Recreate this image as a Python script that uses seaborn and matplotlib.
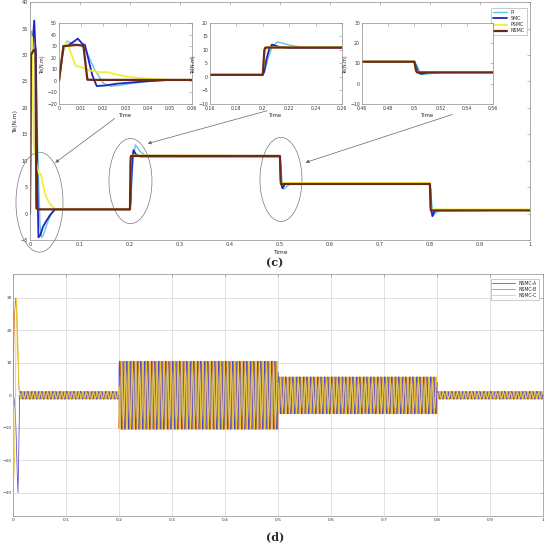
import numpy as np
import pandas as pd
import matplotlib
matplotlib.use("Agg")
import matplotlib.pyplot as plt
from matplotlib.patches import Ellipse
import seaborn as sns

# Par electromagnetico (panel c)
time_pi = [0, 0.0015, 0.0035, 0.006, 0.0095, 0.012, 0.016, 0.02, 0.023, 0.027, 0.032, 0.038,
           0.045, 0.05, 0.2, 0.2015, 0.204, 0.207, 0.211, 0.215, 0.22, 0.23, 0.5, 0.5015,
           0.504, 0.507, 0.512, 0.52, 0.8, 0.8015, 0.804, 0.807, 0.812, 0.82, 1.0]
te_pi = [0, 22, 34.5, 32, 31, 27, 10, -2, -4.5, -4, -2.5, -1, 0.3, 0.8, 0.8, 2, 7, 11, 13,
         12.5, 11.8, 11, 10.8, 9.5, 6, 4.6, 5, 5.6, 5.7, 4.5, 1.2, -0.3, 0.2, 0.6, 0.7]

time_smc = [0, 0.002, 0.004, 0.006, 0.0085, 0.0105, 0.0117, 0.015, 0.017, 0.021, 0.026, 0.032,
            0.04, 0.05, 0.2, 0.201, 0.203, 0.205, 0.207, 0.212, 0.22, 0.5, 0.501, 0.503,
            0.505, 0.51, 0.8, 0.801, 0.803, 0.805, 0.81, 1.0]
te_smc = [0, 30, 30.5, 33, 36.5, 32, 31, 5, -4.5, -4, -2.5, -1.5, -0.3, 0.8, 0.8, 2, 7, 10.5,
          12, 11.2, 10.8, 10.8, 9, 5.5, 4.8, 5.6, 5.7, 4, 0.5, -0.5, 0.6, 0.7]

time_psmc = [0, 0.0015, 0.0035, 0.005, 0.0075, 0.0105, 0.014, 0.018, 0.022, 0.026, 0.031, 0.037,
             0.043, 0.05, 0.2, 0.2012, 0.203, 0.5, 0.5012, 0.503, 0.8, 0.8012, 0.803, 1.0]
te_psmc = [0, 25, 33.5, 26, 13, 11.5, 9, 7.5, 7.5, 5.5, 3.5, 2.3, 1.5, 0.9, 0.9, 9, 11, 10.9,
           6.5, 5.8, 5.8, 1.5, 0.8, 0.8]

time_nsmc = [0, 0.002, 0.005, 0.008, 0.011, 0.0128, 0.016, 0.05, 0.2, 0.2012, 0.202, 0.5,
             0.5012, 0.502, 0.8, 0.8012, 0.802, 1.0]
te_nsmc = [0, 30, 30.5, 31, 30.5, 1, 0.8, 0.8, 0.8, 10, 10.9, 10.9, 6.5, 5.6, 5.6, 1.2, 0.6, 0.6]

controllers = ["PI", "SMC", "PSMC", "NSMC"]
ctrl_colors = {"PI": "#5cc6ee", "SMC": "#2323c0", "PSMC": "#f2ef3a", "NSMC": "#6b2a12"}
ctrl_widths = {"PI": 1.0, "SMC": 1.3, "PSMC": 1.3, "NSMC": 1.6}

# Corrientes de fase NSMC (panel d): arranque leido punto a punto
start_t_a = [0, 0.002, 0.004, 0.006, 0.008, 0.0095, 0.011, 0.0125]
start_i_a = [0, -1, -4, -12, -24, -30, -15, 0]
start_t_b = [0, 0.0015, 0.003, 0.005, 0.007, 0.009, 0.011, 0.0125]
start_i_b = [0, 15, 25, 30, 26, 14, 3, 0]
start_t_c = [0, 0.001, 0.002, 0.003, 0.0045, 0.006, 0.007, 0.009, 0.0115, 0.0125]
start_i_c = [0, -15, -25, -18, 0, 22, 30, 18, 2, 0]

# envolvente de las corrientes por tramo y frecuencia electrica leida
seg_start = [0.0125, 0.2, 0.5, 0.8]
seg_end = [0.2, 0.5, 0.8, 1.0]
seg_amp = [1.2, 10.5, 5.7, 1.2]
freq_hz = 150
phase_names = ["NSMC-A", "NSMC-B", "NSMC-C"]
phase_colors = {"NSMC-A": "#5348c4", "NSMC-B": "#d0762c", "NSMC-C": "#e8cc2c"}

# ---- tabla del par
rows = []
for name, tt, vv in [("PI", time_pi, te_pi), ("SMC", time_smc, te_smc),
                     ("PSMC", time_psmc, te_psmc), ("NSMC", time_nsmc, te_nsmc)]:
    for t, v in zip(tt, vv):
        rows.append({"Time": t, "Te": v, "ctrl": name})
df_te = pd.DataFrame(rows)

# ---- tabla de corrientes
t_run = np.linspace(0.0125, 1.0, 24000)
amp = np.zeros_like(t_run)
for s, e, a in zip(seg_start, seg_end, seg_amp):
    amp[(t_run >= s) & (t_run <= e)] = a
shifts = {"NSMC-A": 0.0, "NSMC-B": -2 * np.pi / 3, "NSMC-C": 2 * np.pi / 3}
starts = {"NSMC-A": (start_t_a, start_i_a), "NSMC-B": (start_t_b, start_i_b),
          "NSMC-C": (start_t_c, start_i_c)}
frames = []
for ph in phase_names:
    st, si = starts[ph]
    cur = amp * np.sin(2 * np.pi * freq_hz * (t_run - 0.0125) + shifts[ph])
    frames.append(pd.DataFrame({"Time": np.r_[st, t_run[1:]], "I": np.r_[si, cur[1:]], "phase": ph}))
df_i = pd.concat(frames, ignore_index=True)

sns.set_style("white")
plt.rcParams["font.family"] = ["DejaVu Sans"]
spine_c = "#8c8c8c"

fig = plt.figure(figsize=(5.5, 5.47), dpi=100)


def style_axes(ax, fs=3.6):
    for sp in ax.spines.values():
        sp.set_color(spine_c)
        sp.set_linewidth(0.5)
    ax.tick_params(direction="in", length=2, width=0.4, colors=spine_c, labelsize=fs,
                   labelcolor="#333333", top=True, right=True, pad=1.5)


def draw_te(ax, lw_scale=1.0):
    for c in controllers:
        sub = df_te[df_te["ctrl"] == c]
        sns.lineplot(data=sub, x="Time", y="Te", ax=ax, color=ctrl_colors[c],
                     lw=ctrl_widths[c] * lw_scale, estimator=None, sort=False, label=c)


# ---- panel (c)
ax = fig.add_axes([0.0545, 0.5612, 0.909, 0.435])
draw_te(ax)
ax.set_xlim(0, 1)
ax.set_ylim(-5, 40)
ax.set_xticks(np.arange(0, 1.01, 0.1))
ax.set_xticklabels(["0", "0.1", "0.2", "0.3", "0.4", "0.5", "0.6", "0.7", "0.8", "0.9", "1"])
ax.set_yticks(np.arange(-5, 41, 5))
style_axes(ax)
ax.set_xlabel("Time", fontsize=4.2, labelpad=2)
ax.set_ylabel("Te(N.m)", fontsize=4.2, labelpad=2)
leg = ax.legend(loc="upper right", bbox_to_anchor=(0.998, 0.985), fontsize=3.4, frameon=True,
                fancybox=False, edgecolor=spine_c, handlelength=3, borderpad=0.4,
                labelspacing=0.25)
leg.get_frame().set_linewidth(0.4)

for cx, cy, w, h in [(0.019, 2.15, 0.094, 18.9), (0.201, 6.15, 0.086, 16.1), (0.502, 6.45, 0.084, 15.9)]:
    ax.add_patch(Ellipse((cx, cy), w, h, fill=False, ec="#777777", lw=0.5, clip_on=False))
for (x0, y0), (x1, y1) in [((0.174, 18.3), (0.046, 9.3)), ((0.48, 19.6), (0.23, 13.1)),
                           ((0.85, 18.9), (0.546, 9.5))]:
    ax.annotate("", xy=(x1, y1), xytext=(x0, y0), annotation_clip=False,
                arrowprops=dict(arrowstyle="-|>", color="#666666", lw=0.5, mutation_scale=5))

# insets
inset_specs = [
    ([0.1073, 0.8099, 0.2418, 0.1481], (0, 0.06), (-20, 50), np.arange(0, 0.061, 0.01),
     ["0", "0.01", "0.02", "0.03", "0.04", "0.05", "0.06"], np.arange(-20, 51, 10)),
    ([0.3818, 0.8099, 0.2400, 0.1481], (0.16, 0.26), (-10, 20), np.arange(0.16, 0.261, 0.02),
     ["0.16", "0.18", "0.2", "0.22", "0.24", "0.26"], np.arange(-10, 21, 5)),
    ([0.6582, 0.8099, 0.2382, 0.1481], (0.46, 0.56), (-10, 30), np.arange(0.46, 0.561, 0.02),
     ["0.46", "0.48", "0.5", "0.52", "0.54", "0.56"], np.arange(-10, 31, 10)),
]
for rect, xl, yl, xt, xtl, yt in inset_specs:
    ai = fig.add_axes(rect)
    draw_te(ai, 1.0)
    if ai.get_legend():
        ai.get_legend().remove()
    ai.set_xlim(*xl)
    ai.set_ylim(*yl)
    ai.set_xticks(xt)
    ai.set_xticklabels(xtl)
    ai.set_yticks(yt)
    style_axes(ai, 3.3)
    ai.set_xlabel("Time", fontsize=3.8, labelpad=1.5)
    ai.set_ylabel("Te(N.m)", fontsize=3.4, labelpad=1.5)

fig.text(0.5, 0.519, "(c)", ha="center", va="center", fontsize=8, fontweight="bold", family="serif")

# ---- panel (d)
axd = fig.add_axes([0.0236, 0.0567, 0.9636, 0.4424])
for ph, z in zip(phase_names, [2, 1, 3]):
    sub = df_i[df_i["phase"] == ph]
    sns.lineplot(data=sub, x="Time", y="I", ax=axd, color=phase_colors[ph], lw=0.55,
                 estimator=None, sort=False, label=ph, zorder=z)
axd.set_xlim(0, 1)
axd.set_ylim(-37.2, 37.4)
axd.set_xticks(np.arange(0, 1.01, 0.1))
axd.set_xticklabels(["0", "0.1", "0.2", "0.3", "0.4", "0.5", "0.6", "0.7", "0.8", "0.9", "1"])
axd.set_yticks(np.arange(-30, 31, 10))
style_axes(axd, 3.2)
axd.tick_params(axis="y", pad=0.8)
axd.grid(True, color="#dcdcdc", lw=0.6)
axd.set_xlabel("")
axd.set_ylabel("")
leg2 = axd.legend(loc="upper right", bbox_to_anchor=(0.997, 0.99), fontsize=3.3, frameon=True,
                  fancybox=False, edgecolor=spine_c, handlelength=5, borderpad=0.4,
                  labelspacing=0.25)
leg2.get_frame().set_linewidth(0.4)

fig.text(0.5, 0.018, "(d)", ha="center", va="center", fontsize=8, fontweight="bold", family="serif")

fig.savefig("out.png", dpi=100)
